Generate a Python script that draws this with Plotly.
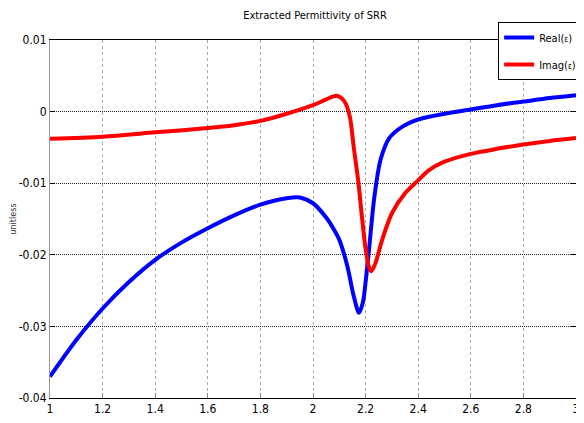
import plotly.graph_objects as go

# Data
x_real = [1.0, 1.1, 1.2, 1.3, 1.4, 1.5, 1.6, 1.7, 1.8, 1.9, 1.95, 2.0, 2.05, 2.08,
          2.1, 2.13, 2.155, 2.175, 2.19, 2.2, 2.213, 2.232, 2.257, 2.29, 2.34,
          2.4, 2.5, 2.6, 2.7, 2.8, 2.9, 3.0]
y_real = [-0.0370, -0.0319, -0.0275, -0.0238, -0.0207, -0.0183, -0.0163, -0.0145,
          -0.0130, -0.0121, -0.0120, -0.0128, -0.0148, -0.0165, -0.0179, -0.0215,
          -0.0258, -0.0281, -0.0266, -0.0238, -0.0193, -0.0123, -0.0067, -0.0037,
          -0.0021, -0.0011, -0.0003, 0.0003, 0.0009, 0.0014, 0.0019, 0.0023]

x_imag = [1.0, 1.2, 1.4, 1.6, 1.7, 1.8, 1.9, 2.0, 2.05, 2.09, 2.12, 2.14, 2.155,
          2.173, 2.187, 2.2, 2.213, 2.222, 2.238, 2.263, 2.3, 2.35, 2.4, 2.44,
          2.5, 2.6, 2.7, 2.8, 2.9, 3.0]
y_imag = [-0.0038, -0.0035, -0.0029, -0.0023, -0.0019, -0.0013, -0.0003, 0.0009,
          0.0017, 0.0022, 0.0014, -0.0007, -0.0050, -0.0100, -0.0150, -0.0192,
          -0.0217, -0.0223, -0.0211, -0.0179, -0.0142, -0.0114, -0.0096, -0.0082,
          -0.0070, -0.0059, -0.0052, -0.0046, -0.0041, -0.0037]

x_ticks = [1, 1.2, 1.4, 1.6, 1.8, 2, 2.2, 2.4, 2.6, 2.8, 3]
x_tick_labels = ["1", "1.2", "1.4", "1.6", "1.8", "2", "2.2", "2.4", "2.6", "2.8", "3"]
y_ticks = [0.01, 0, -0.01, -0.02, -0.03, -0.04]
y_tick_labels = ["0.01", "0", "-0.01", "-0.02", "-0.03", "-0.04"]

title_text = "Extracted Permittivity of SRR"
y_title = "unitless"
name_real = "Real(<span style='font-size:8px'>ε</span>)"
name_imag = "Imag(<span style='font-size:8px'>ε</span>)"

FONT = "DejaVu Sans Condensed, Liberation Sans Narrow, Arial Narrow, Liberation Sans, Arial, sans-serif"

fig = go.Figure()
fig.add_trace(go.Scatter(x=x_real, y=y_real, mode="lines", name=name_real,
                         legendgroup="a",
                         line=dict(color="#0000ff", width=4, shape="spline", smoothing=0.8)))
fig.add_trace(go.Scatter(x=x_imag, y=y_imag, mode="lines", name=name_imag,
                         legendgroup="b",
                         line=dict(color="#ff0000", width=4, shape="spline", smoothing=0.8)))

fig.update_layout(
    width=576, height=407,
    margin=dict(l=42, r=8, t=32, b=17, autoexpand=False),
    paper_bgcolor="white", plot_bgcolor="white",
    font=dict(family=FONT, size=12, color="black"),
    title=dict(text=title_text, x=0.533, xanchor="center", y=0.982, yanchor="middle",
               font=dict(family=FONT, size=11, color="black")),
    legend=dict(x=0.852, xanchor="left", y=1.050, yanchor="top",
                bgcolor="white", bordercolor="black", borderwidth=1,
                font=dict(family=FONT, size=11, color="black"),
                tracegroupgap=8, itemwidth=30),
    showlegend=True,
)

fig.update_xaxes(
    range=[1, 3], tickvals=x_ticks, ticktext=x_tick_labels,
    showline=True, linecolor="black", linewidth=1, mirror=True,
    ticks="inside", ticklen=5, tickcolor="#888888",
    showgrid=True, gridcolor="#aaaaaa", griddash="3px,3px", gridwidth=1,
    zeroline=False, tickfont=dict(family=FONT, size=12, color="black"),
)
fig.update_yaxes(
    range=[-0.04, 0.01], tickvals=y_ticks, ticktext=y_tick_labels,
    showline=True, linecolor="#999999", linewidth=1, mirror="ticks",
    ticks="inside", ticklen=5, tickcolor="black",
    showgrid=True, gridcolor="#222222", griddash="1px,1px", gridwidth=1,
    zeroline=False, tickfont=dict(family=FONT, size=12, color="black"),
    title=dict(text=y_title, font=dict(family=FONT, size=9, color="#333333"), standoff=0),
)

fig.write_html("out.html")
